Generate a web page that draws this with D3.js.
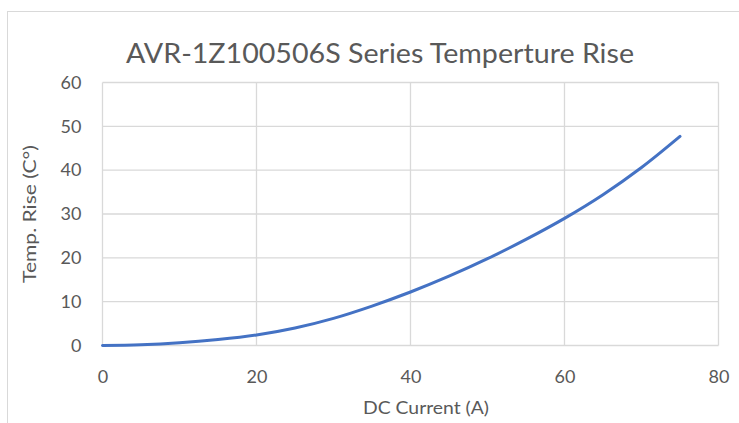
<!DOCTYPE html>
<html><head><meta charset="utf-8">
<script src="https://cdn.jsdelivr.net/npm/d3@7"></script>
<style>body{margin:0;background:#fff}text{font-family:Lato,"Open Sans",sans-serif;fill:#595959}</style>
</head><body>
<svg id="c" width="739" height="423"></svg>
<script>
const current = [0,5,10,15,20,25,30,35,40,45,50,55,60,65,70,75];
const tempRise = [0,0.15,0.6,1.35,2.4,4.0,6.2,9.0,12.2,15.8,19.8,24.2,29.0,34.4,40.6,47.7];
const xTicks = [0,20,40,60,80];
const yTicks = [0,10,20,30,40,50,60];
const title = "AVR-1Z100506S Series Temperture Rise";
const xTitle = "DC Current (A)";
const yTitle = "Temp. Rise (C°)";

const svg = d3.select("#c");
svg.append("rect").attr("x",7.5).attr("y",11.5).attr("width",800).attr("height",500)
  .attr("fill","#fff").attr("stroke","#d9d9d9");
const x = d3.scaleLinear().domain([0,80]).range([102.5,718.5]);
const y = d3.scaleLinear().domain([0,60]).range([345.5,82.5]);

const g = svg.append("g");
g.selectAll("line.h").data(yTicks).join("line")
  .attr("x1",x(0)).attr("x2",x(80)).attr("y1",d=>y(d)).attr("y2",d=>y(d))
  .attr("stroke","#d9d9d9").attr("stroke-width",1.3);
g.selectAll("line.v").data(xTicks).join("line")
  .attr("y1",y(0)).attr("y2",y(60)).attr("x1",d=>x(d)).attr("x2",d=>x(d))
  .attr("stroke","#d9d9d9").attr("stroke-width",1.3);

const xAxis = svg.append("g").attr("transform",`translate(0,${y(0)})`)
  .call(d3.axisBottom(x).tickValues(xTicks).tickSize(0).tickPadding(25));
xAxis.select(".domain").remove();
xAxis.selectAll("text").style("font-size","18px").attr("fill","#595959");
const yAxis = svg.append("g").attr("transform",`translate(${x(0)},0)`)
  .call(d3.axisLeft(y).tickValues(yTicks).tickSize(0).tickPadding(21));
yAxis.select(".domain").remove();
yAxis.selectAll("text").style("font-size","18px").attr("fill","#595959");

svg.append("path").datum(current.map((c,i)=>[c,tempRise[i]]))
  .attr("d", d3.line().x(d=>x(d[0])).y(d=>y(d[1])).curve(d3.curveCatmullRom))
  .attr("fill","none").attr("stroke","#4472c4").attr("stroke-width",3).attr("stroke-linecap","round");

svg.append("text").attr("x",380).attr("y",63).attr("text-anchor","middle")
  .style("font-size","27px").attr("textLength",508).attr("lengthAdjust","spacingAndGlyphs").text(title);
svg.append("text").attr("x",426).attr("y",414).attr("text-anchor","middle")
  .style("font-size","17px").attr("textLength",126).attr("lengthAdjust","spacingAndGlyphs").text(xTitle);
svg.append("text").attr("transform","translate(36,214) rotate(-90)").attr("text-anchor","middle")
  .style("font-size","17px").attr("textLength",138).attr("lengthAdjust","spacingAndGlyphs").text(yTitle);
</script>
</body></html>
